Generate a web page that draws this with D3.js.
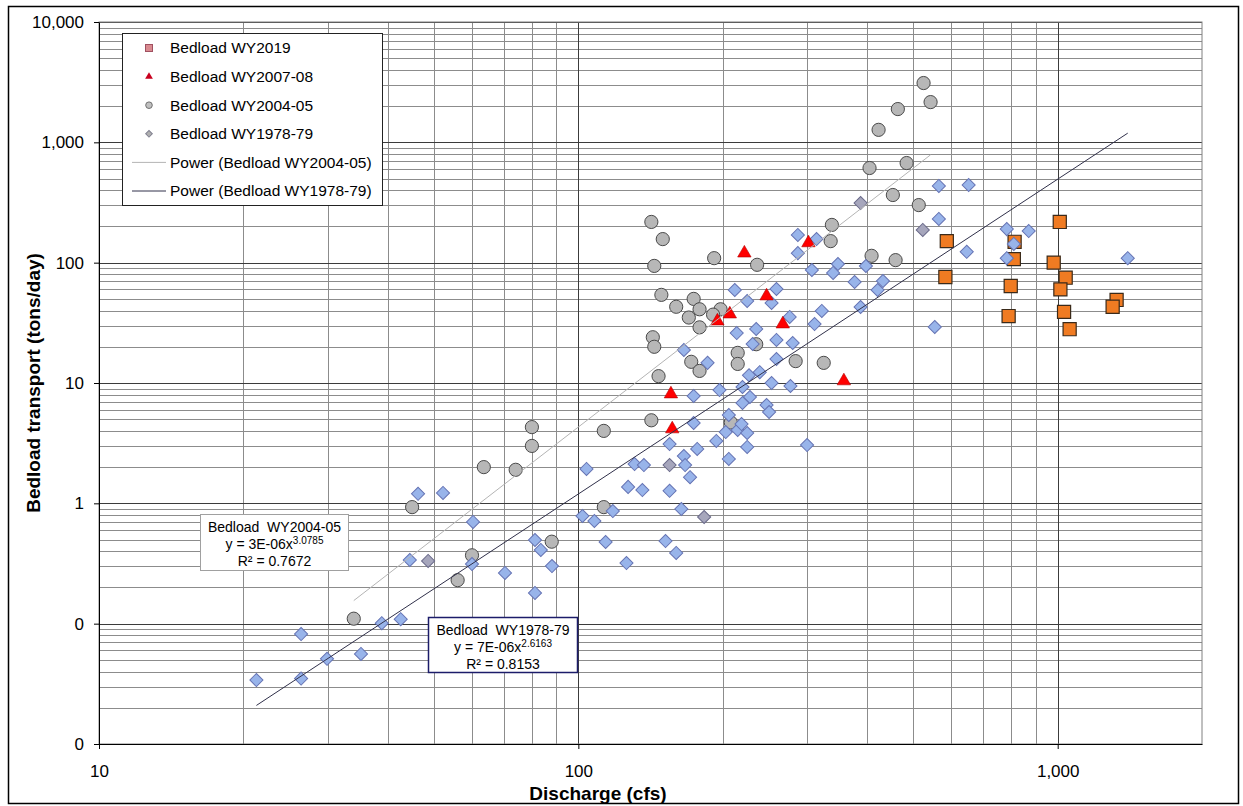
<!DOCTYPE html>
<html lang="en">
<head>
<meta charset="UTF-8">
<script src="https://d3js.org/d3.v7.min.js"></script>
<title>Bedload transport vs discharge</title>
<style>
  body { margin: 0; background: #fff; }
  text { font-family: "Liberation Sans", Arial, sans-serif; fill: #000; }
</style>
</head>
<body>
<svg id="chart" width="1243" height="806"></svg>
<script>
// each point: [discharge (cfs), bedload (tons/day)]
const wy2019 = [[1010,218],[587,151],[813,149],[810,107],[981,100],[583,76],[1039,75],[798,64],
  [1013,60],[1327,49],[1302,43],[1031,39],[790,36],[1059,28]];

const wy200708 = [[156,8.1],[157,4.15],[195,32.7],[207,37.4],[222,120],[247,52.8],[267,30.9],
  [302,146],[358,10.4]];

const wy200405 = [[525,3110],[543,2160],[464,1890],[423,1270],[405,612],[484,673],[453,365],[513,301],
  [142,218],[150,157],[338,206],[336,151],[192,109],[236,96],[144,94],[409,114],[459,105],
  [149,54],[174,50],[160,43],[179,41],[170,35],[198,41],[191,37],[179,29],[143,24],[144,20],
  [215,17.8],[215,14.4],[172,15],[179,12.6],[284,15.2],[325,14.7],[147,11.4],[235,21],
  [208,4.7],[142,4.9],[113,4.0],[80,4.3],[80,3.0],[63.5,2.0],[74,1.9],[45,0.93],[113,0.93],
  [88,0.48],[60,0.37],[56,0.23],[34,0.11]];

const wy197879 = [[21.3,0.034],[26.4,0.082],[26.4,0.035],[29.9,0.051],[35.2,0.056],[38.9,0.101],
  [42.6,0.109],[44.5,0.338],[46.3,1.2],[52.2,1.22],[60.3,0.70],[60,0.313],[70.3,0.264],[81.2,0.496],
  [83.5,0.41],[88.1,0.301],[81.2,0.18],[102,0.785],[108,0.713],[104,1.93],[118,0.863],[114,0.477],
  [126,0.319],[127,1.37],[136,1.29],[131,2.12],[137,2.08],[155,1.27],[155,3.11],[152,0.486],
  [160,0.387],[164,0.897],[166,2.47],[167,2.08],[171,1.65],[174,7.8],[174,4.65],[177,2.83],
  [194,3.3],[206,2.34],[197,8.74],[220,9.26],[228,7.65],[220,6.82],[206,5.42],[203,3.91],
  [215,4.07],[219,4.56],[225,3.84],[225,2.94],[247,6.56],[250,5.74],[253,10.0],[277,9.44],
  [300,3.05],[227,11.6],[239,12.3],[259,15.8],[166,18.8],[186,14.7],[214,26],[235,28.1],
  [231,21.1],[259,22.8],[280,21.5],[212,59.3],[225,48],[253,46.2],[259,60.4],[276,35.4],
  [311,30.9],[322,39.7],[307,86.9],[287,170],[314,157],[287,120],[348,97.5],[340,82.1],
  [398,93.8],[377,69.1],[432,70.4],[421,59.3],[388,42.8],[565,434],[652,442],[565,231],
  [646,123],[783,190],[870,183],[810,143],[783,109],[1400,109],[554,29.2]];
// same series, points drawn with grey fill
const wy197879Grey = [[48.6,0.332],[155,2.08],[183,0.77],[388,313],[523,187]];

const xTicks = [10, 100, 1000];
const xTickLabels = ["10", "100", "1,000"];
const yTicks = [10000, 1000, 100, 10, 1, 0.1, 0.01];
const yTickLabels = ["10,000", "1,000", "100", "10", "1", "0", "0"];

const legendLabels = ["Bedload WY2019", "Bedload WY2007-08", "Bedload WY2004-05", "Bedload WY1978-79",
  "Power (Bedload WY2004-05)", "Power (Bedload WY1978-79)"];

// power trendlines y = a * x^b
const fit200405 = {a: 3e-6, b: 3.0785, r2: 0.7672};
const fit197879 = {a: 7e-6, b: 2.6163, r2: 0.8153};

const svg = d3.select("#chart");
const W = +svg.attr("width"), H = +svg.attr("height");
const margin = {top: 22, right: 41, bottom: 62, left: 99};

const x = d3.scaleLog().domain([10, 2000]).range([margin.left, W - margin.right]);
const y = d3.scaleLog().domain([0.01, 10000]).range([H - margin.bottom, margin.top]);

// outer frame
svg.append("rect").attr("x", 8.5).attr("y", 6.5).attr("width", 1230).attr("height", 797)
  .attr("fill", "#fff").attr("stroke", "#000").attr("stroke-width", 1.5);

// grid
let minorX = [], minorY = [];
[10, 100, 1000].forEach(d => d3.range(2, 10).forEach(m => { if (m * d < 2000) minorX.push(m * d); }));
[0.01, 0.1, 1, 10, 100, 1000].forEach(d => d3.range(2, 10).forEach(m => minorY.push(m * d)));

const grid = svg.append("g");
grid.selectAll(".gy").data(minorY).enter().append("line")
  .attr("x1", x.range()[0]).attr("x2", x.range()[1])
  .attr("y1", d => Math.round(y(d)) + 0.5).attr("y2", d => Math.round(y(d)) + 0.5)
  .attr("stroke", "#8c8c8c").attr("stroke-width", 1);
grid.selectAll(".gx").data(minorX).enter().append("line")
  .attr("y1", y.range()[0]).attr("y2", y.range()[1])
  .attr("x1", d => Math.round(x(d)) + 0.5).attr("x2", d => Math.round(x(d)) + 0.5)
  .attr("stroke", "#8c8c8c").attr("stroke-width", 1);
grid.selectAll(".My").data(yTicks).enter().append("line")
  .attr("x1", x.range()[0]).attr("x2", x.range()[1])
  .attr("y1", d => Math.round(y(d)) + 0.5).attr("y2", d => Math.round(y(d)) + 0.5)
  .attr("stroke", "#3c3c3c").attr("stroke-width", 1);
grid.selectAll(".Mx").data(xTicks).enter().append("line")
  .attr("y1", y.range()[0]).attr("y2", y.range()[1])
  .attr("x1", d => Math.round(x(d)) + 0.5).attr("x2", d => Math.round(x(d)) + 0.5)
  .attr("stroke", "#3c3c3c").attr("stroke-width", 1);

// plot frame (top / right)
svg.append("rect").attr("x", x.range()[0]).attr("y", y.range()[1])
  .attr("width", x.range()[1] - x.range()[0]).attr("height", y.range()[0] - y.range()[1])
  .attr("fill", "none").attr("stroke", "#808080");

// axes
svg.append("g")
  .attr("transform", `translate(0,${y.range()[0]})`)
  .call(d3.axisBottom(x).tickValues(xTicks).tickSize(5).tickSizeOuter(0).tickPadding(16)
    .tickFormat((d, i) => xTickLabels[i]))
  .call(g => g.selectAll("text").attr("font-size", 17).attr("fill", "#000"))
  .call(g => g.selectAll("line, path").attr("stroke", "#000"));

svg.append("g")
  .attr("transform", `translate(${x.range()[0]},0)`)
  .call(d3.axisLeft(y).tickValues(yTicks).tickSize(5).tickSizeOuter(0).tickPadding(10)
    .tickFormat((d, i) => yTickLabels[i]))
  .call(g => g.selectAll("text").attr("font-size", 17).attr("fill", "#000"))
  .call(g => g.selectAll("line, path").attr("stroke", "#000"));

svg.append("text").attr("x", 598).attr("y", 800).attr("text-anchor", "middle")
  .attr("font-size", 19).attr("font-weight", "bold").text("Discharge (cfs)");
svg.append("text").attr("transform", `translate(40,${(y.range()[0] + y.range()[1]) / 2}) rotate(-90)`)
  .attr("text-anchor", "middle").attr("font-size", 19).attr("font-weight", "bold")
  .text("Bedload transport (tons/day)");

// markers
const diamond = d3.symbol().type(d3.symbolSquare).size(86);
const circles = svg.append("g");
circles.selectAll("circle").data(wy200405).enter().append("circle")
  .attr("cx", d => x(d[0])).attr("cy", d => y(d[1])).attr("r", 6.6)
  .attr("fill", "#b7b7b7").attr("stroke", "#4a4a4a").attr("stroke-width", 1);

svg.append("g").selectAll("path").data(wy2019).enter().append("path")
  .attr("d", d3.symbol().type(d3.symbolSquare).size(172)())
  .attr("transform", d => `translate(${x(d[0])},${y(d[1])})`)
  .attr("fill", "#f07b22").attr("stroke", "#3a2a1a").attr("stroke-width", 1.2);

svg.append("g").selectAll("path").data(wy197879Grey).enter().append("path")
  .attr("d", diamond())
  .attr("transform", d => `translate(${x(d[0])},${y(d[1])}) rotate(45)`)
  .attr("fill", "#a6a6bc").attr("stroke", "#6a6a8a").attr("stroke-width", 1);
svg.append("g").selectAll("path").data(wy197879).enter().append("path")
  .attr("d", diamond())
  .attr("transform", d => `translate(${x(d[0])},${y(d[1])}) rotate(45)`)
  .attr("fill", "#98b4ea").attr("stroke", "#6674b4").attr("stroke-width", 1);

svg.append("g").selectAll("path").data(wy200708).enter().append("path")
  .attr("d", d3.symbol().type(d3.symbolTriangle).size(78)())
  .attr("transform", d => `translate(${x(d[0])},${y(d[1])})`)
  .attr("fill", "#ff0000").attr("stroke", "#b00000").attr("stroke-width", 0.6);

// trendlines over the data range of each series
function trend(fit, pts) {
  const ext = d3.extent(pts, d => d[0]);
  return ext.map(v => [v, fit.a * Math.pow(v, fit.b)]);
}
const line = d3.line().x(d => x(d[0])).y(d => y(d[1]));
svg.append("path").attr("d", line(trend(fit200405, wy200405)))
  .attr("fill", "none").attr("stroke", "#b4b4b4").attr("stroke-width", 1);
svg.append("path").attr("d", line(trend(fit197879, wy197879.concat(wy197879Grey))))
  .attr("fill", "none").attr("stroke", "#30304a").attr("stroke-width", 1);

// legend
const lg = svg.append("g");
lg.append("rect").attr("x", 122.5).attr("y", 33.5).attr("width", 260).attr("height", 172)
  .attr("fill", "#fff").attr("stroke", "#222");
const rowY = i => 48 + i * 28.6;
lg.selectAll("text").data(legendLabels).enter().append("text")
  .attr("x", 170).attr("y", (d, i) => rowY(i)).attr("dy", "0.35em")
  .attr("font-size", 15.5).text(d => d);
lg.append("rect").attr("x", 145.5).attr("y", rowY(0) - 3.5).attr("width", 7).attr("height", 7)
  .attr("fill", "#d98a90").attr("stroke", "#a05060");
lg.append("path").attr("d", d3.symbol().type(d3.symbolTriangle).size(26)())
  .attr("transform", `translate(149,${rowY(1)})`).attr("fill", "#c8001e");
lg.append("circle").attr("cx", 149).attr("cy", rowY(2)).attr("r", 3.3)
  .attr("fill", "#c0c0c0").attr("stroke", "#707070");
lg.append("path").attr("d", d3.symbol().type(d3.symbolSquare).size(22)())
  .attr("transform", `translate(149,${rowY(3)}) rotate(45)`).attr("fill", "#b0b0b0").attr("stroke", "#808090");
lg.append("line").attr("x1", 132).attr("x2", 166).attr("y1", rowY(4)).attr("y2", rowY(4))
  .attr("stroke", "#b4b4b4");
lg.append("line").attr("x1", 132).attr("x2", 166).attr("y1", rowY(5)).attr("y2", rowY(5))
  .attr("stroke", "#30304a");

// trendline equation labels
function expStr(a) {
  const e = Math.floor(Math.log10(a));
  const m = Math.round(a / Math.pow(10, e));
  return m + "E" + (e < 0 ? "-" : "+") + String(Math.abs(e)).padStart(2, "0");
}
function eqBox(bx, by, bw, bh, stroke, sw, name, fit) {
  const g = svg.append("g");
  g.append("rect").attr("x", bx).attr("y", by).attr("width", bw).attr("height", bh)
    .attr("fill", "#fff").attr("stroke", stroke).attr("stroke-width", sw);
  const cx = bx + bw / 2;
  g.append("text").attr("x", cx).attr("y", by + 17).attr("text-anchor", "middle")
    .attr("font-size", 14).attr("xml:space", "preserve").text(name);
  const t = g.append("text").attr("x", cx).attr("y", by + 34).attr("text-anchor", "middle")
    .attr("font-size", 14);
  t.append("tspan").text("y = " + expStr(fit.a) + "x");
  t.append("tspan").attr("dy", -5).attr("font-size", 10).text(fit.b.toFixed(4));
  g.append("text").attr("x", cx).attr("y", by + 51).attr("text-anchor", "middle")
    .attr("font-size", 14).text("R\u00b2 = " + fit.r2.toFixed(4));
}
eqBox(200.5, 514.5, 148, 56, "#a0a0a0", 1, "Bedload  WY2004-05", fit200405);
eqBox(428.5, 617.5, 149, 55, "#1c1c6a", 1.5, "Bedload  WY1978-79", fit197879);
</script>
</body>
</html>
